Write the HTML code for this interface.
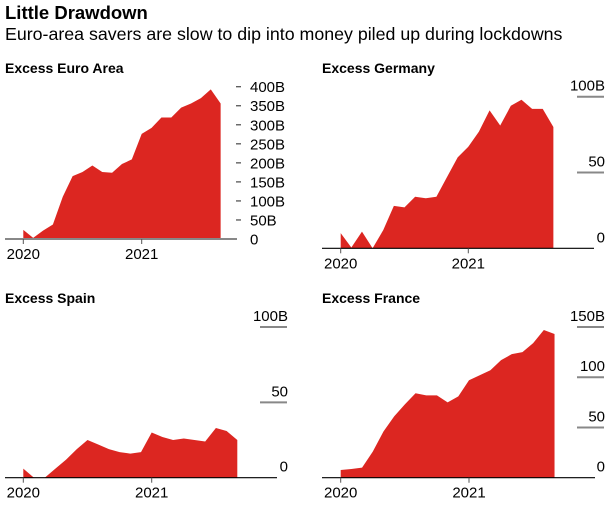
<!DOCTYPE html>
<html><head><meta charset="utf-8"><style>
body{margin:0;background:#fff;font-family:"Liberation Sans",Arial,sans-serif;}
svg{display:block}
</style></head><body>
<svg width="613" height="506" xmlns="http://www.w3.org/2000/svg" font-family="Liberation Sans, Arial, sans-serif">
<text x="5" y="19" font-size="18.5" font-weight="bold" fill="#000">Little Drawdown</text>
<text x="5" y="40" font-size="17.8" fill="#000">Euro-area savers are slow to dip into money piled up during lockdowns</text>
<g id="panels"></g>
</svg>
<script>
const months = ["2020-01","2020-02","2020-03","2020-04","2020-05","2020-06","2020-07","2020-08","2020-09","2020-10","2020-11","2020-12","2021-01","2021-02","2021-03","2021-04","2021-05","2021-06","2021-07","2021-08","2021-09"];
const euroValues = [24,3,22,38,111,165,176,193,176,174,197,209,276,292,319,319,345,356,370,393,356];
const germanyValues = [10,0.5,11,0,12,28,27,34,33,34,47,60,67,77,91,81,94,98,92,92,80];
const spainValues = [6,0,0,6,12,19,25,22,19,17,16,17,30,27,25,26,25,24,33,31,25];
const franceValues = [7.6,8.6,10,26,46,61,73,84,82,82,75,81,97,102,107,117,123,125,134,147,143];
const euroTicks = [0,50,100,150,200,250,300,350,400];
const euroTickLabels = ["0","50B","100B","150B","200B","250B","300B","350B","400B"];
const germanyTicks = [0,50,100];
const germanyTickLabels = ["0","50","100B"];
const spainTicks = [0,50,100];
const spainTickLabels = ["0","50","100B"];
const franceTicks = [0,50,100,150];
const franceTickLabels = ["0","50","100","150B"];
const yearLabels = ["2020","2021"];

const NS="http://www.w3.org/2000/svg";
const root=document.getElementById('panels');
function mk(tag,attrs,parent){const e=document.createElementNS(NS,tag);for(const k in attrs)e.setAttribute(k,attrs[k]);parent.appendChild(e);return e;}

function panel(cfg){
  const g=mk('g',{},root);
  
  
  const t=mk('text',{x:cfg.titleX,y:cfg.titleY,'font-size':14,'font-weight':'bold',fill:'#000'},g);
  t.textContent=cfg.title;
  
  
  const xs=i=>cfg.x2020+i*(cfg.x2021-cfg.x2020)/12;
  const ys=v=>cfg.y0-(v/cfg.refVal)*(cfg.y0-cfg.yRef);
  let d='M'+xs(0)+','+cfg.y0;
  cfg.values.forEach((v,i)=>{d+=' L'+xs(i).toFixed(2)+','+ys(v).toFixed(2);});
  d+=' L'+xs(cfg.values.length-1).toFixed(2)+','+cfg.y0+' Z';
  const a=mk('path',{d:d,fill:'#dc2621'},g);
  
  
  cfg.ticks.forEach((v,i)=>{
    const y=ys(v);
    if(cfg.dash){
      if(i>0){const l=mk('line',{x1:cfg.labelX-14,x2:cfg.labelX-9,y1:y,y2:y,stroke:'#555','stroke-width':1.3},g);
      
      }
      const tx=mk('text',{x:cfg.labelX,y:y+5.5,'font-size':15,fill:'#000'},g);
      tx.textContent=cfg.tickLabels[i];
      
      
    } else {
      if(i>0){const l=mk('line',{x1:cfg.labelRight-28,x2:cfg.labelRight-1,y1:y,y2:y,stroke:'#888','stroke-width':2},g);
      
      }
      const tx=mk('text',{x:cfg.labelRight,y:y-6,'font-size':15,fill:'#000','text-anchor':'end'},g);
      tx.textContent=cfg.tickLabels[i];
      
      
    }
  });
  const b=mk('line',{x1:cfg.axisX1,x2:cfg.axisX2,y1:cfg.y0,y2:cfg.y0,stroke:cfg.dash?'#888':'#000','stroke-width':cfg.dash?2:1.2},g);
  
  
  [cfg.x2020,cfg.x2021].forEach((x,i)=>{
    const tk=mk('line',{x1:x,x2:x,y1:cfg.y0,y2:cfg.y0+5,stroke:'#555','stroke-width':1},g);
    
    
    const tx=mk('text',{x:x,y:cfg.y0+20,'font-size':15,fill:'#000','text-anchor':'middle'},g);
    tx.textContent=yearLabels[i];
    
    
  });
}
panel({name:'euro-area',title:'Excess Euro Area',titleX:5,titleY:73,values:euroValues,x2020:23.3,x2021:141.7,y0:239,yRef:86.7,refVal:400,ticks:euroTicks,tickLabels:euroTickLabels,dash:true,labelX:250,axisX1:5,axisX2:237});
panel({name:'germany',title:'Excess Germany',titleX:322,titleY:73,values:germanyValues,x2020:340.7,x2021:468.3,y0:248.3,yRef:96.7,refVal:100,ticks:germanyTicks,tickLabels:germanyTickLabels,dash:false,labelRight:605,axisX1:322,axisX2:594});
panel({name:'spain',title:'Excess Spain',titleX:5,titleY:303,values:spainValues,x2020:23.3,x2021:151.7,y0:477.7,yRef:327,refVal:100,ticks:spainTicks,tickLabels:spainTickLabels,dash:false,labelRight:288,axisX1:5,axisX2:277});
panel({name:'france',title:'Excess France',titleX:322,titleY:303,values:franceValues,x2020:340.7,x2021:469,y0:477.7,yRef:327,refVal:150,ticks:franceTicks,tickLabels:franceTickLabels,dash:false,labelRight:605,axisX1:322,axisX2:595});
</script>
</body></html>
